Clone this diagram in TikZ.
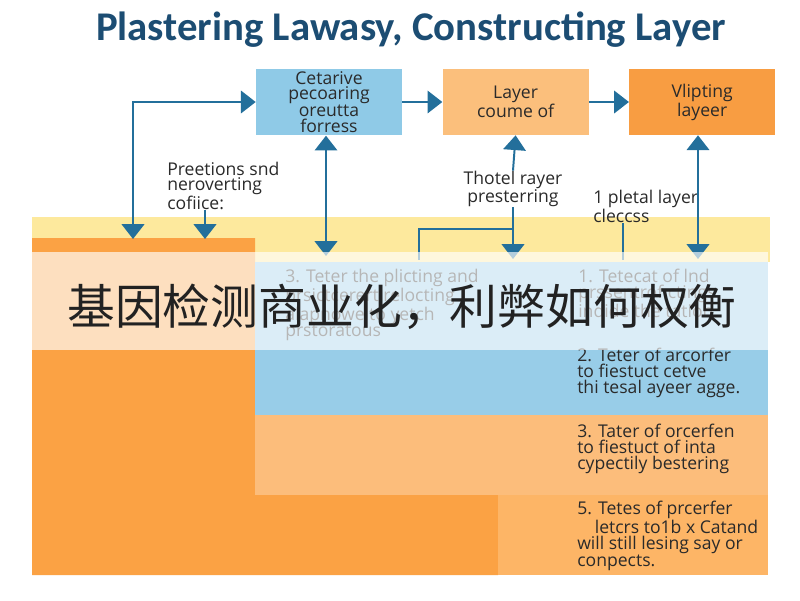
\documentclass[tikz,border=0pt]{standalone}
\usepackage{fontspec}
\setmainfont{Open Sans}
\newfontfamily\titlefont{Carlito}
\newfontfamily\cjkfont{Noto Sans CJK SC}
\usetikzlibrary{arrows.meta, positioning}
\definecolor{titleblue}{HTML}{1C4D73}
\definecolor{inkgray}{HTML}{2A2A2A}
\definecolor{linkblue}{HTML}{236F9B}
\definecolor{boxblue}{HTML}{8FCAE7}
\definecolor{boxpeach}{HTML}{FBBF7C}
\definecolor{boxorange}{HTML}{F89D42}
\definecolor{bandyellow}{HTML}{FDE99D}
\definecolor{blockorange}{HTML}{FBA244}
\definecolor{rowblue}{HTML}{98CDE8}
\definecolor{rowpeach}{HTML}{FCBD7B}
\definecolor{rowamber}{HTML}{FDB566}
\definecolor{cjkink}{HTML}{222222}

\begin{document}
\begin{tikzpicture}[x=0.025cm, y=-0.025cm,
  >={Triangle[width=16pt,length=10.5pt]},
  flowbox/.style={minimum width=3.65cm, minimum height=1.65cm, align=center,
                  inner sep=2pt, font=\fontsize{12.5}{11}\selectfont, text=inkgray},
  link/.style={draw=linkblue, line width=1.4pt},
  note/.style={align=left, inner sep=0pt, font=\fontsize{12.5}{10.5}\selectfont, text=inkgray},
  rowtext/.style={anchor=north west, align=left, inner sep=0pt,
                  font=\fontsize{12.5}{11.2}\selectfont, text=inkgray}]
  \useasboundingbox (0,0) rectangle (800,600);
  \fill[white] (0,0) rectangle (800,600);

  \node[font=\titlefont\bfseries\fontsize{29}{29}\selectfont, text=titleblue] (title) at (411,30)
        {Plastering Lawasy, Constructing Layer};

  \fill[bandyellow] (32,217) rectangle (770,262);
  \fill[blockorange] (32,238) -- (255,238) -- (255,495) -- (498,495) -- (498,575) -- (32,575) -- cycle;
  \fill[rowblue] (255,262) rectangle (768,415);
  \fill[rowpeach] (255,415) rectangle (768,495);
  \fill[rowamber] (498,495) rectangle (768,575);

  \node[rowtext, font=\fontsize{12.5}{11.5}\selectfont] (rowthreeback) at (285,269)
        {3. Teter the plicting and\\prsictcerert relocting\\alapnowe to yetch\\prstoratous};
  \node[rowtext, font=\fontsize{12.5}{11.5}\selectfont] (rowoneback) at (578,269)
        {1. Tetecat of lnd\\prssentrof ctings\\indide the tation};
  \node[rowtext] (rowtwo) at (577,348) {2. Teter of arcorfer\\to fiestuct cetve\\thi tesal ayeer agge.};
  \node[rowtext] (rowthree) at (577,424) {3. Tater of orcerfen\\to fiestuct of inta\\cypectily bestering};
  \node[rowtext] (rowfive) at (577,501) {5. Tetes of prcerfer\\\hspace*{1em}letcrs to1b x Catand\\will still lesing say or\\conpects.};

  \node[flowbox, fill=boxblue] (cat) at (329,102) {Cetarive\\pecoaring\\oreutta\\forress};
  \node[flowbox, fill=boxpeach, right=1cm of cat] (lay) {Layer\\coume of};
  \node[flowbox, fill=boxorange, right=1cm of lay] (vip) {Vlipting\\layeer};

  \node[note, anchor=north west] (pres) at (167,162) {Preetions snd\\neroverting\\cofiice:};
  \node[note, align=center] (thotel) at (513,189) {Thotel rayer\\presterring};
  \node[note, anchor=north west] (pletal) at (593,190) {1 pletal layer\\cleccss};

  \coordinate (lefttip) at (133,239);
  \coordinate (prestip) at (205,239);
  \coordinate (cattip) at (326,256);
  \coordinate (laytip) at (513,259);
  \coordinate (fork) at (513,229);
  \coordinate (branch) at (419,260);
  \coordinate (viptip) at (698,259);
  \coordinate (tick) at (623,260);

  \draw[link, ->] (cat) -- (lay);
  \draw[link, ->] (lay) -- (vip);
  \draw[link, <->] (lefttip) |- (cat.west);
  \draw[link, ->] (pres.south -| prestip) -- (prestip);
  \draw[link, <->] (cat.south -| cattip) -- (cattip);
  \draw[link, <-] (lay.south) -- (thotel.north);
  \draw[link, ->] (thotel.south) -- (laytip);
  \draw[link, line width=1.2pt] (fork) -| (branch);
  \draw[link, <->] (vip.south -| viptip) -- (viptip);
  \draw[link, line width=1.2pt] (pletal.south -| tick) -- (tick);

  \fill[white, opacity=0.66] (32,252) rectangle (768,350);
  \node[font=\cjkfont\fontsize{34}{34}\selectfont, text=cjkink] (headline) at (402,307)
        {基因检测商业化，利弊如何权衡};
\end{tikzpicture}
\end{document}
